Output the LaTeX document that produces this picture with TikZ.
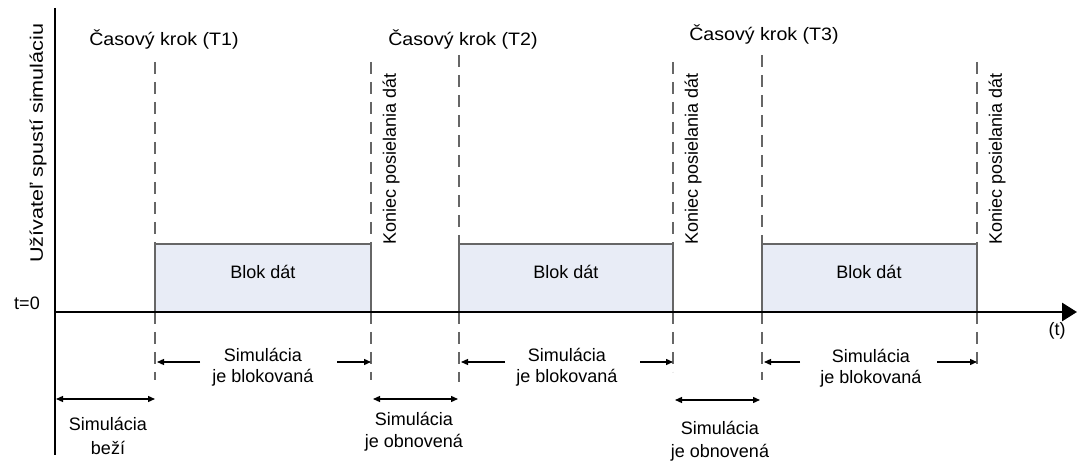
\documentclass[tikz,border=0pt]{standalone}
\usepackage{fontspec}
\setmainfont{Liberation Sans}
\usetikzlibrary{arrows.meta}
\definecolor{boxfill}{HTML}{E8ECF6}
\definecolor{boxedge}{HTML}{666666}
\definecolor{dashcol}{HTML}{666666}
\begin{document}
\begin{tikzpicture}[x=1pt,y=-1pt,
  font=\fontsize{18}{21}\selectfont,
  axisline/.style={line width=2.8pt, black},
  tline/.style={draw=dashcol, line width=1.8pt, dash pattern=on 12pt off 8pt},
  blk/.style={draw=boxedge, fill=boxfill, line width=1.8pt, inner sep=0pt, outer sep=0pt, anchor=south west, minimum height=68pt},
  arr/.style={line width=1.3pt, -{Triangle[length=7pt,width=6pt]}},
  darr/.style={line width=1.3pt, {Triangle[length=7pt,width=6pt]}-{Triangle[length=7pt,width=6pt]}},
  lbl/.style={inner sep=0pt, align=center},
  vlbl/.style={inner sep=0pt, anchor=west, rotate=90}]
\useasboundingbox (0,0) rectangle (1077,462);

% dashed time lines
\foreach \n/\x/\t/\b in {t1/155/62/380, k1/371/62/380, t2/459/55/382, k2/673/62/372, t3/762/55/380, k3/977/62/370}{
  \coordinate (\n top) at (\x,\t);
  \coordinate (\n up) at (\x,244);
  \coordinate (\n ax) at (\x,312);
  \coordinate (\n bot) at (\x,\b);
  \draw[tline] (\n top) -- (\n up);
  \draw[tline] (\n ax) -- (\n bot);
}

% data blocks
\node[blk, minimum width=216pt] (box1) at (155,312) {};
\node[blk, minimum width=214pt] (box2) at (459,312) {};
\node[blk, minimum width=215pt] (box3) at (762,312) {};
\node[lbl] (bd1) at (263,272) {Blok dát};
\node[lbl] (bd2) at (566,272) {Blok dát};
\node[lbl] (bd3) at (869,272) {Blok dát};

% axes
\coordinate (vtop) at (55,8);
\coordinate (vbot) at (55,455);
\coordinate (horig) at (55,312);
\coordinate (hend) at (1077,312);
\draw[axisline] (vtop) -- (vbot);
\draw[axisline, -{Triangle[length=15pt,width=18pt]}] (horig) -- (hend);

% axis labels
\node[lbl] (t0) at (27,303) {t=0};
\node[lbl] (tt) at (1057,331) {(t)};
\node[vlbl] (user) at (38,263) {\scalebox{1.2}[1]{Užívateľ spustí simuláciu}};

% top labels
\node[lbl] (ck1) at (164,40) {\scalebox{1.09}[1]{Časový krok (T1)}};
\node[lbl] (ck2) at (463,40) {\scalebox{1.09}[1]{Časový krok (T2)}};
\node[lbl] (ck3) at (764,35) {\scalebox{1.09}[1]{Časový krok (T3)}};

\node[vlbl] (kon1) at (391,245) {Koniec posielania dát};
\node[vlbl] (kon2) at (693,245) {Koniec posielania dát};
\node[vlbl] (kon3) at (997,245) {Koniec posielania dát};

% blocked intervals
\node[lbl] (sb1) at (263,367) {Simulácia\\je blokovaná};
\node[lbl] (sb2) at (567,367) {Simulácia\\je blokovaná};
\node[lbl] (sb3) at (871,368) {Simulácia\\je blokovaná};
\foreach \i/\l/\r/\lx/\rx in {1/157/371/200/337, 2/461/673/505/640, 3/764/977/800/937}{
  \coordinate (bl\i a) at (\lx,362);
  \coordinate (bl\i b) at (\l,362);
  \coordinate (br\i a) at (\rx,362);
  \coordinate (br\i b) at (\r,362);
  \draw[arr] (bl\i a) -- (bl\i b);
  \draw[arr] (br\i a) -- (br\i b);
}

% running / resumed intervals
\coordinate (run a) at (56,399);
\coordinate (run b) at (155,399);
\draw[darr] (run a) -- (run b);
\node[lbl, font=\fontsize{18}{24}\selectfont] (srun) at (108,436) {Simulácia\\beží};

\coordinate (ob1 a) at (373,399);
\coordinate (ob1 b) at (458,399);
\draw[darr] (ob1 a) -- (ob1 b);
\node[lbl, font=\fontsize{18}{22}\selectfont] (sob1) at (414,432) {Simulácia\\je obnovená};

\coordinate (ob2 a) at (675,400);
\coordinate (ob2 b) at (760,400);
\draw[darr] (ob2 a) -- (ob2 b);
\node[lbl, font=\fontsize{18}{23}\selectfont] (sob2) at (720,441) {Simulácia\\je obnovená};
\end{tikzpicture}
\end{document}
